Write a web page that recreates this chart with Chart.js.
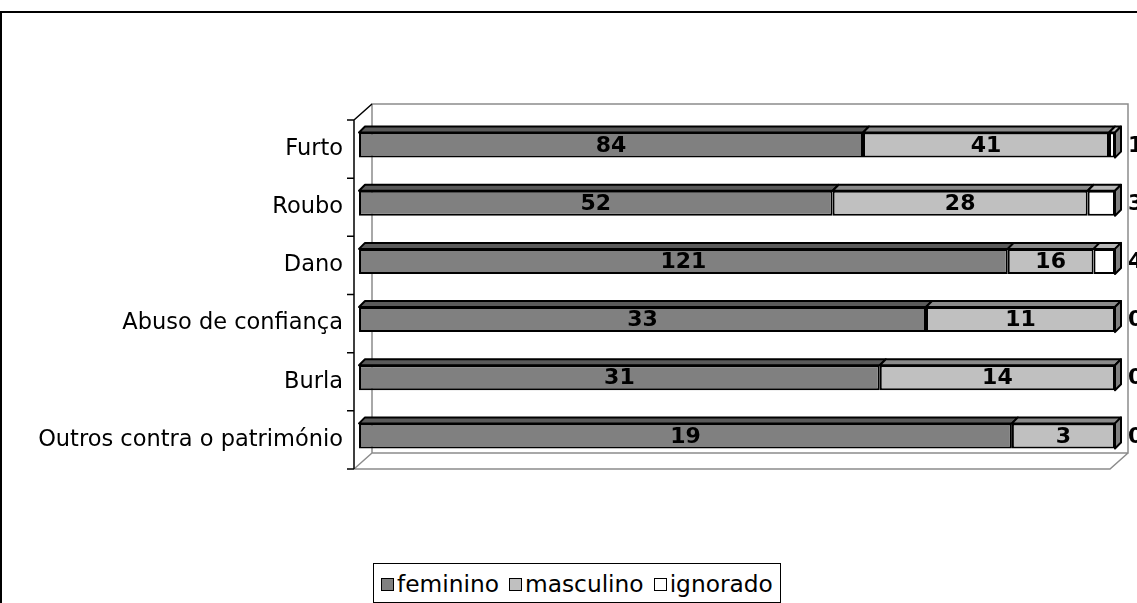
<!DOCTYPE html>
<html><head><meta charset="utf-8">
<script src="https://cdn.jsdelivr.net/npm/chart.js@4"></script>
<style>
html,body{margin:0;padding:0;background:#fff;overflow:hidden}
#wrap{position:relative;width:1137px;height:603px;overflow:hidden;background:#fff}
#frame{position:absolute;left:0;top:11px;width:1200px;height:700px;border:2px solid #000;box-sizing:border-box}
#chart{position:absolute;left:0;top:0}
#legend{position:absolute;left:373px;top:563px;height:40px;box-sizing:border-box;border:1.5px solid #000;background:#fff;
 display:flex;align-items:center;padding:0 7px 0 7px;font-family:'DejaVu Sans';font-size:23.3px;color:#000;white-space:nowrap}
#legend .it{display:flex;align-items:center;margin-right:10px}
#legend .it:last-child{margin-right:0}
#legend .sw{width:11px;height:11px;border:1px solid #000;margin-right:3px;margin-top:2px}
</style></head>
<body>
<div id="wrap">
<div id="frame"></div>
<canvas id="chart" width="1137" height="603"></canvas>
<div id="legend"></div>
</div>
<script>
const categories = ['Furto','Roubo','Dano','Abuso de confiança','Burla','Outros contra o património'];
const feminino = [84,52,121,33,31,19];
const masculino = [41,28,16,11,14,3];
const ignorado = [1,3,4,0,0,0];
const seriesNames = ['feminino','masculino','ignorado'];
const seriesColors = ['#808080','#c0c0c0','#ffffff'];
const topColors = ['#5a5a5a','#8a8a8a','#b8b8b8'];

const raw = [feminino, masculino, ignorado];
const totals = categories.map((_, i) => feminino[i] + masculino[i] + ignorado[i]);
const pct = raw.map(s => s.map((v, i) => v / totals[i] * 100));

const D = 6;            // bar depth
const FX = -5, FY = 4;  // bar plane -> front plane
const WX = 18, WY = -16; // wall depth

const threeD = {
  id: 'threeD',
  beforeDatasetsDraw(chart) {
    const ctx = chart.ctx;
    const a = chart.chartArea;
    const fL = a.left + FX, fR = a.right + FX, fT = a.top + FY, fB = a.bottom + FY;
    ctx.save();
    ctx.strokeStyle = '#8c8c8c';
    ctx.lineWidth = 1.5;
    ctx.beginPath();
    ctx.rect(fL + WX, fT + WY, fR - fL, fB - fT);
    ctx.moveTo(fL, fB); ctx.lineTo(fR, fB); ctx.lineTo(fR + WX, fB + WY);
    ctx.moveTo(fL, fB); ctx.lineTo(fL + WX, fB + WY);
    ctx.stroke();
    ctx.strokeStyle = '#000';
    ctx.lineWidth = 1.5;
    ctx.beginPath();
    ctx.moveTo(fL, fT); ctx.lineTo(fL + WX, fT + WY);
    ctx.moveTo(fL, fT); ctx.lineTo(fL, fB);
    const n = categories.length;
    for (let k = 0; k <= n; k++) {
      const y = fT + k * (fB - fT) / n;
      ctx.moveTo(fL - 7, y); ctx.lineTo(fL, y);
    }
    ctx.stroke();
    ctx.lineWidth = 2;
    ctx.strokeStyle = '#000';
    ctx.lineJoin = 'round';
    for (let i = 0; i < n; i++) {
      let last = null;
      for (let d = 0; d < raw.length; d++) {
        const el = chart.getDatasetMeta(d).data[i];
        if (!raw[d][i]) continue;
        const x0 = el.base, x1 = el.x, y0 = el.y - el.height / 2;
        ctx.fillStyle = topColors[d];
        ctx.beginPath();
        ctx.moveTo(x0, y0); ctx.lineTo(x1, y0); ctx.lineTo(x1 + D, y0 - D); ctx.lineTo(x0 + D, y0 - D); ctx.closePath();
        ctx.fill(); ctx.stroke();
        last = el;
      }
      if (last) {
        const x1 = last.x, y0 = last.y - last.height / 2, y1 = last.y + last.height / 2;
        ctx.fillStyle = '#808080';
        ctx.beginPath();
        ctx.moveTo(x1, y0); ctx.lineTo(x1 + D, y0 - D); ctx.lineTo(x1 + D, y1 - D); ctx.lineTo(x1, y1); ctx.closePath();
        ctx.fill(); ctx.stroke();
      }
    }
    ctx.restore();
  },
  afterDatasetsDraw(chart) {
    const ctx = chart.ctx;
    ctx.save();
    ctx.fillStyle = '#000';
    ctx.font = "bold 22px 'DejaVu Sans'";
    ctx.textBaseline = 'middle';
    for (let i = 0; i < categories.length; i++) {
      for (let d = 0; d < 2; d++) {
        const el = chart.getDatasetMeta(d).data[i];
        ctx.textAlign = 'center';
        ctx.fillText(String(raw[d][i]), (el.x + el.base) / 2, el.y + 1);
      }
      const el = chart.getDatasetMeta(2).data[i];
      ctx.textAlign = 'left';
      ctx.fillText(String(ignorado[i]), chart.chartArea.right + D + 7, el.y + 1);
    }
    ctx.restore();
  }
};

new Chart(document.getElementById('chart'), {
  type: 'bar',
  data: {
    labels: categories,
    datasets: seriesNames.map((name, d) => ({
      label: name,
      data: pct[d],
      backgroundColor: seriesColors[d],
      borderColor: '#000',
      borderWidth: ctx => (raw[d][ctx.dataIndex] ? 2 : 0),
      borderSkipped: false,
      categoryPercentage: 1,
      barPercentage: 0.43
    }))
  },
  options: {
    indexAxis: 'y',
    responsive: false,
    animation: false,
    events: [],
    layout: { padding: { left: 0, top: 116, right: 22, bottom: 138 } },
    plugins: { legend: { display: false }, tooltip: { enabled: false } },
    scales: {
      x: { stacked: true, min: 0, max: 100, display: false },
      y: {
        stacked: true,
        grid: { display: false, drawTicks: false },
        border: { display: false },
        ticks: { color: '#000', padding: 16, labelOffset: 4, font: { family: 'DejaVu Sans', size: 22.5 } },
        afterFit(scale) { scale.width = 359; }
      }
    }
  },
  plugins: [threeD]
});

const lg = document.getElementById('legend');
seriesNames.forEach((name, d) => {
  const it = document.createElement('span'); it.className = 'it';
  const sw = document.createElement('span'); sw.className = 'sw'; sw.style.background = seriesColors[d];
  const tx = document.createElement('span'); tx.textContent = name;
  it.appendChild(sw); it.appendChild(tx); lg.appendChild(it);
});
</script>
</body></html>
